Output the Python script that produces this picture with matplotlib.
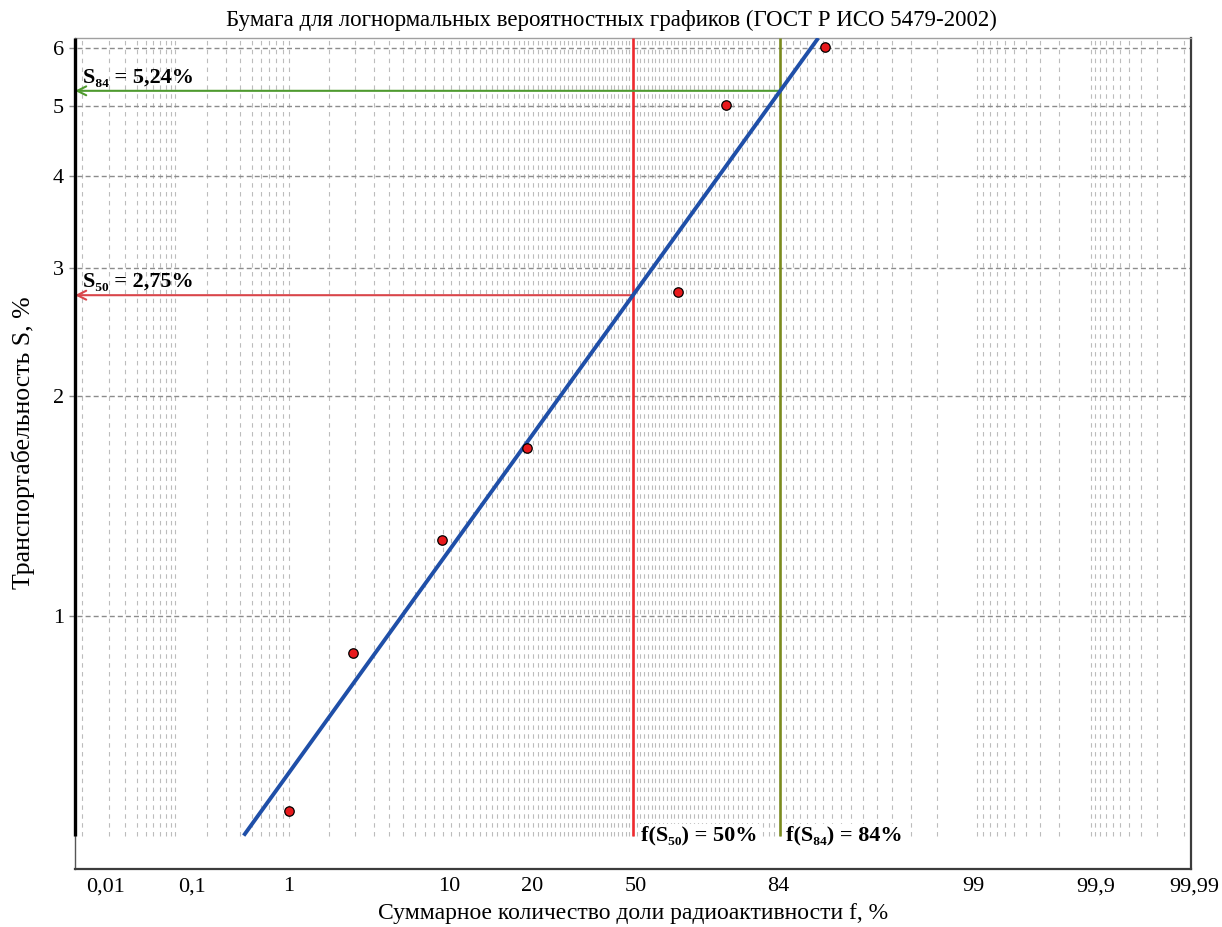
import numpy as np
import matplotlib
matplotlib.use('Agg')
import matplotlib.pyplot as plt
import matplotlib.transforms as mtransforms
from matplotlib.ticker import NullLocator
from statistics import NormalDist

# --- данные ---
f_pct = [1.0, 2.95, 9.9, 23.7, 61.9, 73.5, 90.3]      # суммарная доля, %
s_pct = [0.54, 0.89, 1.27, 1.70, 2.78, 5.01, 6.02]    # транспортабельность S, %

f50, s50 = 50, 2.75
f84, s84 = 84, 5.24

x_ticks = [0.01, 0.1, 1, 10, 20, 50, 84, 99, 99.9, 99.99]
x_tick_labels = ['0,01', '0,1', '1', '10', '20', '50', '84', '99', '99,9', '99,99']
# подписи на исходной бумаге стоят чуть в стороне от своих линий (пикс.)
x_label_shift = [23, 17, 0, 6, 24, 3, -2, -4, 5, 11]
y_ticks = [1, 2, 3, 4, 5, 6]
y_tick_labels = ['1', '2', '3', '4', '5', '6']

x_limits = (0.0082, 99.9918)
y_limits = (0.45, 6.19)
y_grid_bottom = 0.5

# --- вероятностная шкала ---
_nd = NormalDist()
_ppf = np.vectorize(_nd.inv_cdf, otypes=[float])
_cdf = np.vectorize(_nd.cdf, otypes=[float])


def to_z(p):
    p = np.clip(np.asarray(p, dtype=float) / 100.0, 1e-12, 1 - 1e-12)
    return _ppf(p)


def from_z(z):
    return _cdf(np.asarray(z, dtype=float)) * 100.0


plt.rcParams['font.family'] = ['Liberation Serif', 'DejaVu Serif']

fig = plt.figure(figsize=(12.22, 9.27), dpi=100)
ax = fig.add_axes([75 / 1222, 1 - 869 / 927, (1191 - 75) / 1222, (869 - 38) / 927])
ax.set_xscale('function', functions=(to_z, from_z))
ax.set_yscale('log')
ax.set_xlim(*x_limits)
ax.set_ylim(*y_limits)

# сетка
grid_pct = np.concatenate([
    np.arange(1, 10) * 0.01,
    np.arange(1, 10) * 0.1,
    np.arange(1, 100, 1.0),
    99 + np.arange(1, 10) * 0.1,
    99.9 + np.arange(1, 10) * 0.01,
])
ax.vlines(grid_pct, y_grid_bottom, y_limits[1], colors='#bcbcbc', linewidth=0.8,
          linestyles=(0, (4, 4)), zorder=1)
for y in y_ticks:
    ax.axhline(y, xmin=-0.005, xmax=1, color='#8c8c8c', linewidth=1.0,
               linestyle=(0, (3.6, 2.2)), clip_on=False, zorder=1.5)

# линии медианы и 84%
ax.vlines([f50], y_grid_bottom, y_limits[1], colors='#ee2a2f', linewidth=1.9, zorder=3)
ax.vlines([f84], y_grid_bottom, y_limits[1], colors='#7a8a1e', linewidth=1.9, zorder=3)

ax.annotate('', xy=(x_limits[0], s50), xytext=(f50, s50),
            arrowprops=dict(arrowstyle='->', color='#d9454a', lw=1.5,
                            shrinkA=0, shrinkB=0, mutation_scale=16), zorder=3)
ax.annotate('', xy=(x_limits[0], s84), xytext=(f84, s84),
            arrowprops=dict(arrowstyle='->', color='#4f9a2f', lw=1.5,
                            shrinkA=0, shrinkB=0, mutation_scale=16), zorder=3)

# аппроксимирующая прямая
b = (np.log10(s84) - np.log10(s50)) / to_z(f84)
z_line = (np.log10([y_grid_bottom, y_limits[1]]) - np.log10(s50)) / b
ax.plot(from_z(z_line), [y_grid_bottom, y_limits[1]], color='#1f4fa8',
        linewidth=2.8, solid_capstyle='butt', zorder=4)

ax.plot(f_pct, s_pct, 'o', color='#e8191c', markeredgecolor='black',
        markeredgewidth=0.9, markersize=6.8, zorder=5)

# подписи
ax.annotate('S₈₄ = 5,24%', xy=(0, s84), xycoords=('axes fraction', 'data'),
            xytext=(6, 2), textcoords='offset points', ha='left', va='bottom',
            fontsize=16, fontweight='bold')
ax.annotate('S₅₀ = 2,75%', xy=(0, s50), xycoords=('axes fraction', 'data'),
            xytext=(6, 2), textcoords='offset points', ha='left', va='bottom',
            fontsize=16, fontweight='bold')
ax.annotate('f(S₅₀) = 50%', xy=(f50, y_grid_bottom), xytext=(6, 0),
            textcoords='offset points', ha='left', va='center',
            fontsize=16, fontweight='bold',
            bbox=dict(boxstyle='square,pad=0.05', fc='white', ec='none'), zorder=6)
ax.annotate('f(S₈₄) = 84%', xy=(f84, y_grid_bottom), xytext=(4, 0),
            textcoords='offset points', ha='left', va='center',
            fontsize=16, fontweight='bold',
            bbox=dict(boxstyle='square,pad=0.05', fc='white', ec='none'), zorder=6)

# оси
ax.set_xticks(x_ticks)
ax.set_xticklabels(x_tick_labels)
ax.xaxis.set_minor_locator(NullLocator())
ax.set_yticks(y_ticks)
ax.set_yticklabels(y_tick_labels)
ax.yaxis.set_minor_locator(NullLocator())
ax.tick_params(axis='x', length=0, pad=6, labelsize=16)
ax.tick_params(axis='y', length=0, pad=8, labelsize=16)
for lbl, dx in zip(ax.get_xticklabels(), x_label_shift):
    lbl.set_transform(lbl.get_transform() +
                      mtransforms.ScaledTranslation(dx / 100, 0, fig.dpi_scale_trans))

ax.spines['left'].set_color('#555555')
ax.spines['left'].set_linewidth(1.0)
ax.spines['bottom'].set_color('#3c3c3c')
ax.spines['bottom'].set_linewidth(1.6)
ax.spines['right'].set_color('#3c3c3c')
ax.spines['right'].set_linewidth(1.6)
ax.spines['top'].set_color('#a0a0a0')
ax.spines['top'].set_linewidth(1.0)
ax.vlines(0, y_grid_bottom, y_limits[1], transform=ax.get_yaxis_transform(),
          colors='black', linewidth=2.4, clip_on=False, zorder=7)

ax.set_xlabel('Суммарное количество доли радиоактивности f, %', fontsize=17, labelpad=5)
ax.set_ylabel('Транспортабельность S, %', fontsize=18.5)
ax.yaxis.set_label_coords(-0.036, 0.513)
fig.text(0.5, 1 - 20 / 927, 'Бумага для логнормальных вероятностных графиков (ГОСТ Р ИСО 5479-2002)',
         ha='center', va='center', fontsize=16.5)

fig.savefig('out.png', dpi=100)
